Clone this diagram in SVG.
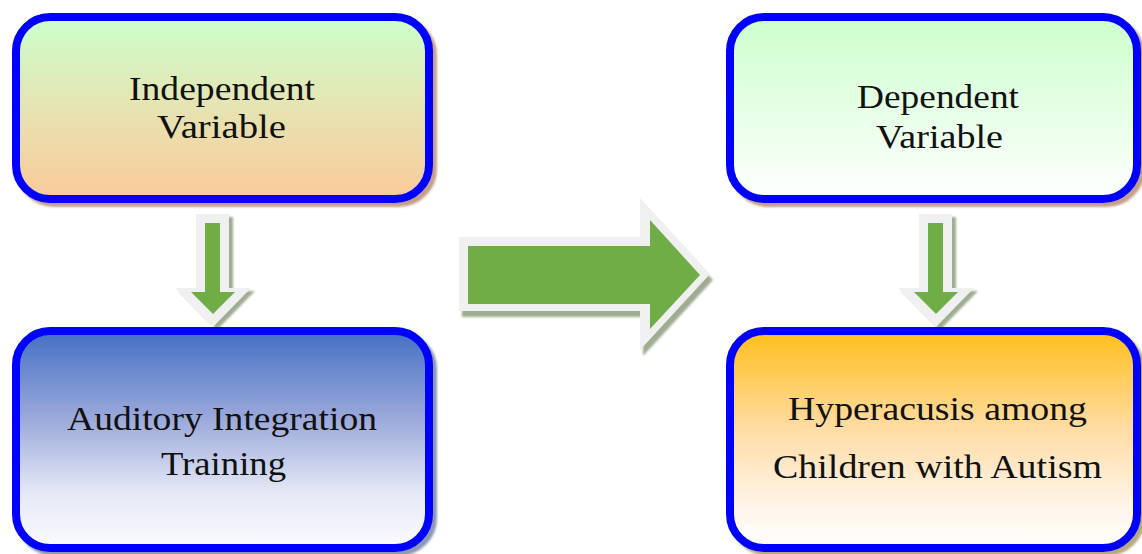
<svg xmlns="http://www.w3.org/2000/svg" width="1142" height="554" viewBox="0 0 1142 554">
<defs>
<linearGradient id="g1" x1="0" y1="0" x2="0" y2="1"><stop offset="0" stop-color="#CCFFCC"/><stop offset="0.5" stop-color="#E6E4B2"/><stop offset="1" stop-color="#FBCA9A"/></linearGradient>
<linearGradient id="g2" x1="0" y1="0" x2="0" y2="1"><stop offset="0" stop-color="#CCFFCC"/><stop offset="1" stop-color="#FFFFFF"/></linearGradient>
<linearGradient id="g3" x1="0" y1="0" x2="0" y2="1"><stop offset="0" stop-color="#4470C4"/><stop offset="0.4" stop-color="#9AA8DA"/><stop offset="0.75" stop-color="#E6E9F6"/><stop offset="1" stop-color="#FBFBFE"/></linearGradient>
<linearGradient id="g4" x1="0" y1="0" x2="0" y2="1"><stop offset="0" stop-color="#FFBE1A"/><stop offset="0.45" stop-color="#FFDCA4"/><stop offset="0.8" stop-color="#FFF4E8"/><stop offset="1" stop-color="#FFFFFF"/></linearGradient>
<filter id="blur" x="-5%" y="-5%" width="110%" height="110%"><feGaussianBlur stdDeviation="1.2"/></filter>
<path id="downArrow" d="M-17,0 H16 V74 H38 L0,113 L-38,74 H-17 Z"/>
<path id="downArrowIn" d="M-8,9 H7 V78 H22 L0,100 L-22,78 H-8 Z"/>
</defs>
<style>
.box{stroke:#0000FF;stroke-width:8}
.shadow{fill:none;stroke-width:8;filter:url(#blur)}
.lbl{font-size:34px;fill:#111;text-anchor:middle}
.aout{fill:#F0F0F0}
.ash{fill:#8E9E80;opacity:0.85;filter:url(#blur)}
.ain{fill:#70AD47}
</style>
<rect width="1142" height="554" fill="#FFFFFF"/>
<g id="connectors">
<g id="arrow-left" transform="translate(213,214)">
<use href="#downArrow" class="ash" transform="translate(4,3)"/>
<use href="#downArrow" class="aout"/>
<use href="#downArrowIn" class="ain"/>
</g>
<g id="arrow-right" transform="translate(936,214)">
<use href="#downArrow" class="ash" transform="translate(4,3)"/>
<use href="#downArrow" class="aout"/>
<use href="#downArrowIn" class="ain"/>
</g>
<g id="arrow-big">
<path class="ash" transform="translate(3,6)" d="M459,237 H640 V198 L710,274 L640,350 V311 H459 Z"/>
<path class="aout" d="M459,237 H640 V198 L710,274 L640,350 V311 H459 Z"/>
<path class="ain" d="M468,246 H650 V220 L700,275 L650,329 V304 H468 Z"/>
</g>
</g>
<g font-family="Liberation Serif">
<g id="node-independent">
<rect class="shadow" stroke="#C4A08A" x="20" y="21" width="413" height="182" rx="34"/>
<rect class="box" fill="url(#g1)" x="16" y="17" width="413" height="182" rx="34"/>
<text class="lbl" x="222" y="100" textLength="186" lengthAdjust="spacingAndGlyphs">Independent</text>
<text class="lbl" x="221.5" y="138" textLength="129" lengthAdjust="spacingAndGlyphs">Variable</text>
</g>
<g id="node-dependent">
<rect class="shadow" stroke="#C4A08A" x="734" y="21" width="407" height="182" rx="34"/>
<rect class="box" fill="url(#g2)" x="730" y="17" width="407" height="182" rx="34"/>
<text class="lbl" x="938" y="108" textLength="162" lengthAdjust="spacingAndGlyphs">Dependent</text>
<text class="lbl" x="939.5" y="148" textLength="127" lengthAdjust="spacingAndGlyphs">Variable</text>
</g>
<g id="node-auditory">
<rect class="shadow" stroke="#8C98B4" x="20" y="335" width="413" height="217" rx="34"/>
<rect class="box" fill="url(#g3)" x="16" y="331" width="413" height="217" rx="34"/>
<text class="lbl" x="222" y="430" textLength="310" lengthAdjust="spacingAndGlyphs">Auditory Integration</text>
<text class="lbl" x="223.5" y="475" textLength="125" lengthAdjust="spacingAndGlyphs">Training</text>
</g>
<g id="node-hyperacusis">
<rect class="shadow" stroke="#B8A880" x="734" y="335" width="407" height="217" rx="34"/>
<rect class="box" fill="url(#g4)" x="730" y="331" width="407" height="217" rx="34"/>
<text class="lbl" x="937.5" y="420" textLength="299" lengthAdjust="spacingAndGlyphs">Hyperacusis among</text>
<text class="lbl" x="937.5" y="478" textLength="329" lengthAdjust="spacingAndGlyphs">Children with Autism</text>
</g>
</g>
</svg>
